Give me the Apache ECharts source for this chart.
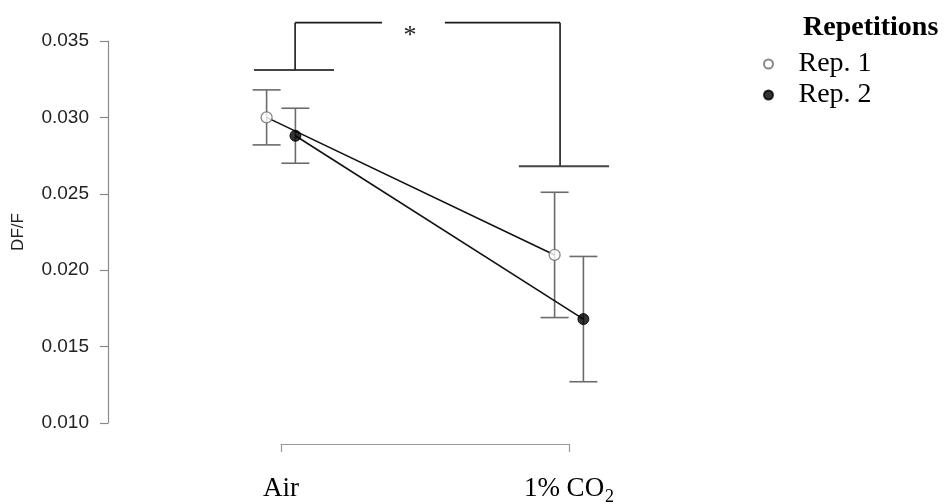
<!DOCTYPE html>
<html>
<head>
<meta charset="utf-8">
<script src="https://cdn.jsdelivr.net/npm/echarts@6/dist/echarts.min.js"></script>
<style>
  html, body { margin: 0; padding: 0; background: #fff; }
  #chart { width: 947px; height: 503px; }
</style>
</head>
<body>
<div id="chart"></div>
<script>
// Treatment groups on the x axis
const groups = ['Air', '1% CO2'];

// Repetition 1: means and error-bar limits
const rep1Mean = [0.0300, 0.0210];
const rep1Low  = [0.0282, 0.0169];
const rep1High = [0.0318, 0.0251];

// Repetition 2: means and error-bar limits
const rep2Mean = [0.0288, 0.0168];
const rep2Low  = [0.0270, 0.0127];
const rep2High = [0.0306, 0.0209];

// Y axis range and tick step
const yMin = 0.010;
const yMax = 0.035;
const yStep = 0.005;

// Significance bracket heights (data units) and its label
const bracketTop = 0.0362;
const bracketLeftFoot = 0.0331;
const bracketRightFoot = 0.0268;
const bracketLabel = '*';

const dodge = 0.05;
const serif = '"Liberation Serif", "Times New Roman", serif';
const sans = '"Liberation Sans", Arial, Helvetica, sans-serif';

function points(means, offset) {
  return means.map((v, i) => [i + offset, v]);
}
function bars(low, high, offset) {
  return low.map((l, i) => [i + offset, l, high[i]]);
}

function errorBarRender(params, api) {
  const x = api.value(0);
  const top = api.coord([x, api.value(2)]);
  const bot = api.coord([x, api.value(1)]);
  const hw = 14;
  const style = { stroke: '#6b6b6b', lineWidth: 1.6, fill: null };
  return {
    type: 'group',
    children: [
      { type: 'line', shape: { x1: top[0], y1: top[1], x2: bot[0], y2: bot[1] }, style },
      { type: 'line', shape: { x1: top[0] - hw, y1: top[1], x2: top[0] + hw, y2: top[1] }, style },
      { type: 'line', shape: { x1: bot[0] - hw, y1: bot[1], x2: bot[0] + hw, y2: bot[1] }, style }
    ]
  };
}

// One connecting polyline per repetition, drawn through the axis scales
function connectRender(means, offset) {
  return function (params, api) {
    if (params.dataIndex !== 0) return null;
    const pts = means.map((v, i) => api.coord([i + offset, v]));
    return {
      type: 'polyline',
      shape: { points: pts },
      style: { stroke: '#111', lineWidth: 1.6, fill: null }
    };
  };
}

function bracketRender(params, api) {
  const c = (x, y) => api.coord([x, y]);
  const style = { stroke: '#1a1a1a', lineWidth: 1.6, fill: null };
  const footStyle = { stroke: '#444', lineWidth: 2, fill: null };
  const seg = (a, b, s) => ({ type: 'line', shape: { x1: a[0], y1: a[1], x2: b[0], y2: b[1] }, style: s });
  const star = c(0.448, bracketTop);
  return {
    type: 'group',
    children: [
      seg(c(-0.094, bracketLeftFoot), c(0.184, bracketLeftFoot), footStyle),
      seg(c(0.049, bracketLeftFoot), c(0.049, bracketTop), style),
      seg(c(0.049, bracketTop), c(0.351, bracketTop), style),
      seg(c(0.569, bracketTop), c(0.969, bracketTop), style),
      seg(c(0.969, bracketTop), c(0.969, bracketRightFoot), style),
      seg(c(0.826, bracketRightFoot), c(1.139, bracketRightFoot), footStyle),
      {
        type: 'text',
        x: star[0], y: star[1] + 1,
        style: { text: bracketLabel, font: '26px ' + serif, fill: '#222', align: 'center', verticalAlign: 'top' }
      }
    ]
  };
}

const chart = echarts.init(document.getElementById('chart'), null, { renderer: 'canvas' });

chart.setOption({
  animation: false,
  backgroundColor: '#fff',
  grid: { left: 281, right: 378, top: 41, bottom: 80, containLabel: false, outerBoundsMode: 'none' },
  title: {
    text: 'Repetitions',
    left: 798, top: 9,
    textStyle: { fontFamily: serif, fontWeight: 'bold', fontSize: 28, color: '#000' }
  },
  legend: {
    orient: 'vertical',
    left: 758, top: 45,
    itemWidth: 50, itemHeight: 9, itemGap: 3,
    data: [{ name: 'Rep. 1', icon: 'circle' }, { name: 'Rep. 2', icon: 'circle' }],
    textStyle: { fontFamily: serif, fontSize: 28, color: '#000' }
  },
  xAxis: {
    type: 'value',
    min: 0, max: 1, interval: 1,
    offset: 21,
    axisLine: { show: true, onZero: false, lineStyle: { color: '#9a9a9a', width: 1.2 } },
    axisTick: { show: true, length: 8, lineStyle: { color: '#9a9a9a', width: 1.2 } },
    splitLine: { show: false },
    axisLabel: {
      margin: 31,
      fontFamily: serif, fontSize: 27, color: '#000',
      formatter: v => {
        const name = groups[Math.round(v)];
        return name === '1% CO2' ? '1% CO{sub|2}' : name;
      },
      rich: {
        sub: { fontFamily: serif, fontSize: 18, color: '#000', verticalAlign: 'bottom', padding: [0, 0, -4, 1] }
      }
    }
  },
  yAxis: {
    type: 'value',
    min: yMin, max: yMax, interval: yStep,
    offset: 173,
    name: 'DF/F',
    nameLocation: 'middle',
    nameGap: 81,
    nameRotate: 90,
    nameTextStyle: { fontFamily: sans, fontSize: 17, color: '#222' },
    axisLine: { show: true, onZero: false, lineStyle: { color: '#8a8a8a', width: 1.2 } },
    axisTick: { show: true, length: 8, lineStyle: { color: '#8a8a8a', width: 1.2 } },
    splitLine: { show: false },
    axisLabel: {
      margin: 19,
      fontFamily: sans, fontSize: 19, color: '#222',
      formatter: v => v.toFixed(3)
    }
  },
  series: [
    {
      type: 'custom', name: 'bracket', renderItem: bracketRender,
      data: [[0, bracketTop]], clip: false, silent: true, z: 1
    },
    {
      type: 'custom', name: 'err1', renderItem: errorBarRender,
      data: bars(rep1Low, rep1High, -dodge), clip: false, z: 2,
      encode: { x: 0, y: [1, 2] }
    },
    {
      type: 'custom', name: 'err2', renderItem: errorBarRender,
      data: bars(rep2Low, rep2High, dodge), clip: false, z: 2,
      encode: { x: 0, y: [1, 2] }
    },
    {
      type: 'custom', name: 'line1', renderItem: connectRender(rep1Mean, -dodge),
      data: points(rep1Mean, -dodge), clip: false, silent: true, z: 3
    },
    {
      type: 'custom', name: 'line2', renderItem: connectRender(rep2Mean, dodge),
      data: points(rep2Mean, dodge), clip: false, silent: true, z: 3
    },
    {
      type: 'scatter', name: 'Rep. 1', data: points(rep1Mean, -dodge), clip: false,
      symbol: 'circle', symbolSize: 11,
      itemStyle: { color: '#fff', borderColor: '#6b6b6b', borderWidth: 1.3 }, z: 4
    },
    {
      type: 'scatter', name: 'Rep. 2', data: points(rep2Mean, dodge), clip: false,
      symbol: 'circle', symbolSize: 11,
      itemStyle: { color: '#000', borderColor: '#000', borderWidth: 1 }, z: 4
    }
  ]
});
</script>
</body>
</html>
